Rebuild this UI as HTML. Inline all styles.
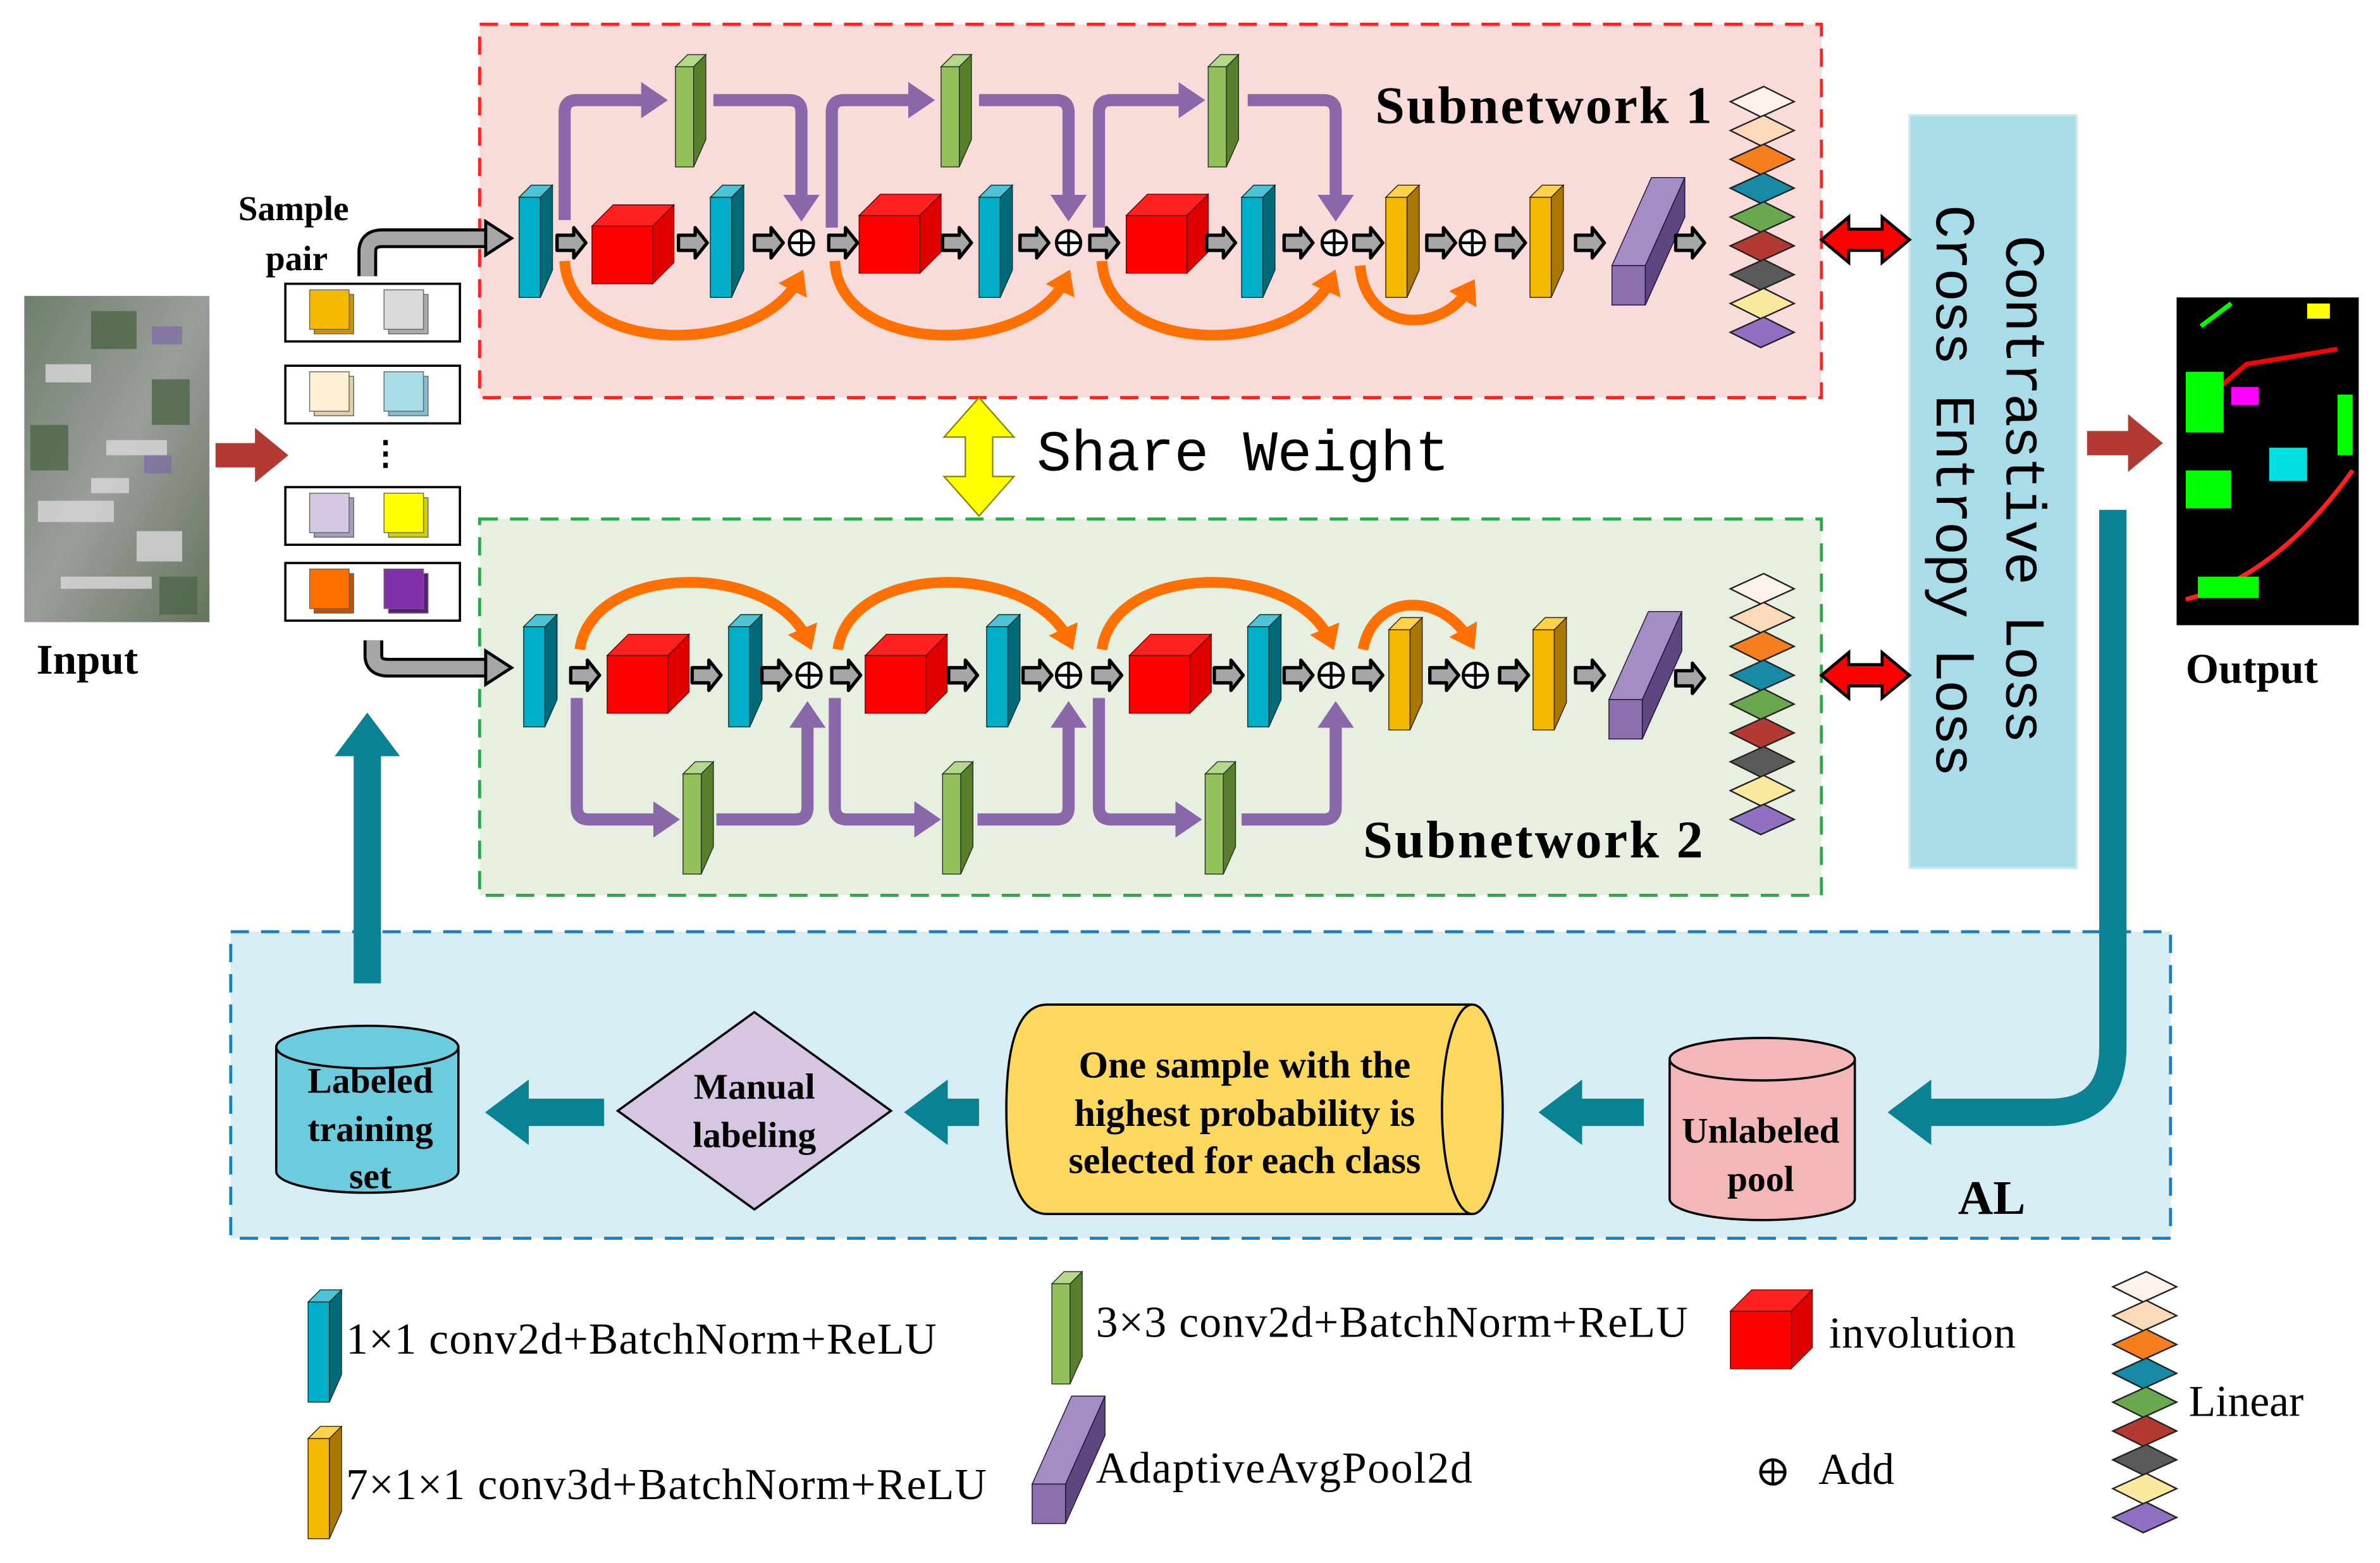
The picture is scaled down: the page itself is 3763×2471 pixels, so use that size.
<!DOCTYPE html>
<html><head><meta charset="utf-8"><style>
html,body{margin:0;padding:0;background:#fff}
svg{display:block}
.t{font-family:"Liberation Serif",serif}
.b{font-family:"Liberation Serif",serif;font-weight:bold}
.m{font-family:"Liberation Mono",monospace}
</style></head><body>
<svg width="3763" height="2471" viewBox="0 0 1568 1030" preserveAspectRatio="none" xmlns="http://www.w3.org/2000/svg">
<defs>
<symbol id="teal" overflow="visible"><polygon points="0,8 8,0 22,0 14,8" fill="#4fc3d6" stroke="#033" stroke-width="0.6"/><rect x="0" y="8" width="14" height="66" fill="#00aec8" stroke="#033" stroke-width="0.6"/><polygon points="14,8 22,0 22,56 14,74" fill="#006a78" stroke="#033" stroke-width="0.6"/></symbol>
<symbol id="green" overflow="visible"><polygon points="0,8 8,0 20,0 12,8" fill="#b6d88a" stroke="#232" stroke-width="0.6"/><rect x="0" y="8" width="12" height="66" fill="#93c05a" stroke="#232" stroke-width="0.6"/><polygon points="12,8 20,0 20,56 12,74" fill="#5a7f2c" stroke="#232" stroke-width="0.6"/></symbol>
<symbol id="orng" overflow="visible"><polygon points="0,8 8,0 22,0 14,8" fill="#ffd24d" stroke="#320" stroke-width="0.6"/><rect x="0" y="8" width="14" height="66" fill="#f5b800" stroke="#320" stroke-width="0.6"/><polygon points="14,8 22,0 22,56 14,74" fill="#a87800" stroke="#320" stroke-width="0.6"/></symbol>
<symbol id="red" overflow="visible"><polygon points="0,14 14,0 54,0 40,14" fill="#ff2020" stroke="#600" stroke-width="0.6"/><rect x="0" y="14" width="40" height="38" fill="#ff0000" stroke="#600" stroke-width="0.6"/><polygon points="40,14 54,0 54,38 40,52" fill="#e00000" stroke="#600" stroke-width="0.6"/></symbol>
<symbol id="pool" overflow="visible"><polygon points="0,58 26,0 48,0 22,58" fill="#a48cc4" stroke="#213" stroke-width="0.6"/><rect x="0" y="58" width="22" height="26" fill="#8c6fae" stroke="#213" stroke-width="0.6"/><polygon points="22,58 48,0 48,26 22,84" fill="#5e4680" stroke="#213" stroke-width="0.6"/></symbol>
<symbol id="arr" overflow="visible"><polygon points="0,-5 11,-5 11,-10 19,0 11,10 11,5 0,5" fill="#a6a6a6" stroke="#000" stroke-width="2.2" stroke-linejoin="round"/></symbol>
<symbol id="add" overflow="visible"><circle cx="0" cy="0" r="8" fill="#fff" stroke="#000" stroke-width="2"/><path d="M-8,0H8M0,-8V8" stroke="#000" stroke-width="1.8"/></symbol>
<symbol id="lin" overflow="visible">
<g stroke="#222" stroke-width="1">
<polygon points="0,12 22,2 42,12 20,22" fill="#fdf1ec"/>
<polygon points="0,31 22,21 42,31 20,41" fill="#fcd9b8"/>
<polygon points="0,50 22,40 42,50 20,60" fill="#f57f1f"/>
<polygon points="0,69 22,59 42,69 20,79" fill="#178ba5"/>
<polygon points="0,88 22,78 42,88 20,98" fill="#6aa84f"/>
<polygon points="0,107 22,97 42,107 20,117" fill="#b23a32"/>
<polygon points="0,126 22,116 42,126 20,136" fill="#5a5a5a"/>
<polygon points="0,145 22,135 42,145 20,155" fill="#fbe9a0"/>
<polygon points="0,164 22,154 42,164 20,174" fill="#9070c0"/>
</g></symbol>
<marker id="mp" markerWidth="3" markerHeight="3" refX="1.2" refY="1.5" orient="auto" markerUnits="strokeWidth"><polygon points="0,0 2.2,1.5 0,3" fill="#8a67a8"/></marker>
<marker id="mo" markerWidth="3" markerHeight="3" refX="1.2" refY="1.5" orient="auto" markerUnits="strokeWidth"><polygon points="0,0 2.2,1.5 0,3" fill="#ff7000"/></marker>
<marker id="mt" markerWidth="2.4" markerHeight="2.4" refX="0.8" refY="1.2" orient="auto" markerUnits="strokeWidth"><polygon points="0,0 1.6,1.2 0,2.4" fill="#0a8293"/></marker>
<linearGradient id="sat" x1="0" y1="0" x2="1" y2="1"><stop offset="0" stop-color="#6f7f6c"/><stop offset="0.5" stop-color="#9a9e9a"/><stop offset="1" stop-color="#66755e"/></linearGradient>
</defs>

<rect x="316" y="16" width="884" height="246" fill="#f9dcda" stroke="#ff2020" stroke-width="2" stroke-dasharray="12,8"/>
<rect x="316" y="342" width="884" height="248" fill="#e7f0e0" stroke="#2aa84a" stroke-width="2" stroke-dasharray="12,8"/>
<rect x="152" y="614" width="1278" height="202" fill="#d6edf4" stroke="#1a7ec0" stroke-width="2" stroke-dasharray="12,8"/>
<rect x="1258" y="76" width="110" height="496" fill="#a8dce8" stroke="#c9e8ee" stroke-width="1.5"/>
<text class="m" font-size="37" textLength="335" transform="translate(1322,155) rotate(90)">Contrastive Loss</text>
<text class="m" font-size="37" textLength="377" transform="translate(1276,135) rotate(90)">Cross Entropy Loss</text>

<rect x="16" y="195" width="122" height="215" fill="url(#sat)"/>
<g fill="#d8d8d8" opacity="0.8"><rect x="30" y="240" width="30" height="12"/><rect x="70" y="290" width="40" height="10"/><rect x="25" y="330" width="50" height="14"/><rect x="90" y="350" width="30" height="20"/><rect x="40" y="380" width="60" height="8"/><rect x="60" y="315" width="25" height="10"/></g>
<g fill="#4f6648" opacity="0.8"><rect x="60" y="205" width="30" height="25"/><rect x="100" y="250" width="25" height="30"/><rect x="20" y="280" width="25" height="30"/><rect x="105" y="380" width="25" height="25"/></g>
<g fill="#7d6aa8" opacity="0.7"><rect x="100" y="215" width="20" height="12"/><rect x="95" y="300" width="18" height="12"/></g>
<rect x="1434" y="196" width="120" height="216" fill="#000"/>
<g fill="none" stroke-width="3"><path d="M1445,270 L1480,240 L1540,230" stroke="#ff0000"/><path d="M1440,395 Q1500,380 1550,310" stroke="#ff2020"/><path d="M1450,215 L1470,200" stroke="#00ff00"/></g>
<rect x="1440" y="245" width="25" height="40" fill="#00ff00"/><rect x="1495" y="295" width="25" height="22" fill="#00e0e0"/><rect x="1470" y="255" width="18" height="12" fill="#ff00ff"/><rect x="1440" y="310" width="30" height="25" fill="#00ff00"/><rect x="1448" y="380" width="40" height="14" fill="#00ff00"/><rect x="1540" y="260" width="10" height="40" fill="#00ff00"/><rect x="1520" y="200" width="15" height="10" fill="#ffff00"/>

<text class="b" font-size="28" x="24" y="444">Input</text>
<text class="b" font-size="28" x="1440" y="450">Output</text>
<polygon points="142,292 168,292 168,282 190,300 168,318 168,308 142,308" fill="#b23a32"/>
<polygon points="1375,284 1402,284 1402,273 1425,292 1402,311 1402,300 1375,300" fill="#b23a32"/>

<text class="b" font-size="23" x="157" y="145">Sample</text>
<text class="b" font-size="23" x="175" y="178">pair</text>
<g stroke="#000" stroke-width="1.5" fill="#fff"><rect x="188" y="187" width="115" height="38"/><rect x="188" y="241" width="115" height="38"/><rect x="188" y="321" width="115" height="38"/><rect x="188" y="371" width="115" height="38"/></g>
<g stroke="#666" stroke-width="0.6">
<rect x="207" y="194" width="26" height="26" fill="#d09000"/><rect x="204" y="191" width="26" height="26" fill="#f7b900"/>
<rect x="256" y="194" width="26" height="26" fill="#aaa"/><rect x="253" y="191" width="26" height="26" fill="#d9d9d9"/>
<rect x="207" y="248" width="26" height="26" fill="#e0cfa8"/><rect x="204" y="245" width="26" height="26" fill="#fdf0d4"/>
<rect x="256" y="248" width="26" height="26" fill="#80c0cc"/><rect x="253" y="245" width="26" height="26" fill="#a6dde6"/>
<rect x="207" y="328" width="26" height="26" fill="#a89cbf"/><rect x="204" y="325" width="26" height="26" fill="#d4c8e2"/>
<rect x="256" y="328" width="26" height="26" fill="#d0d000"/><rect x="253" y="325" width="26" height="26" fill="#ffff00"/>
<rect x="207" y="378" width="26" height="26" fill="#c05000"/><rect x="204" y="375" width="26" height="26" fill="#ff7000"/>
<rect x="256" y="378" width="26" height="26" fill="#5a1c80"/><rect x="253" y="375" width="26" height="26" fill="#8030a8"/>
</g>
<text class="b" font-size="22" x="243" y="306">⋮</text>
<path d="M242,182 V166 Q242,157 252,157 H322" fill="none" stroke="#000" stroke-width="13"/><path d="M242,182 V166 Q242,157 252,157 H322" fill="none" stroke="#a6a6a6" stroke-width="9"/>
<polygon points="320,146 337,157 320,168" fill="#a6a6a6" stroke="#000" stroke-width="2"/>
<path d="M246,422 V432 Q246,440 256,440 H322" fill="none" stroke="#000" stroke-width="13"/><path d="M246,422 V432 Q246,440 256,440 H322" fill="none" stroke="#a6a6a6" stroke-width="9"/>
<polygon points="320,429 337,440 320,451" fill="#a6a6a6" stroke="#000" stroke-width="2"/>

<g>
<path d="M372,145 V74 Q372,66 380,66 H432" fill="none" stroke="#8a67a8" stroke-width="8" marker-end="url(#mp)"/>
<path d="M470,66 H520 Q528,66 528,74 V138" fill="none" stroke="#8a67a8" stroke-width="8" marker-end="url(#mp)"/>
<path d="M548,150 V74 Q548,66 556,66 H608" fill="none" stroke="#8a67a8" stroke-width="8" marker-end="url(#mp)"/>
<path d="M645,66 H696 Q704,66 704,74 V138" fill="none" stroke="#8a67a8" stroke-width="8" marker-end="url(#mp)"/>
<path d="M724,150 V74 Q724,66 732,66 H786" fill="none" stroke="#8a67a8" stroke-width="8" marker-end="url(#mp)"/>
<path d="M822,66 H872 Q880,66 880,74 V138" fill="none" stroke="#8a67a8" stroke-width="8" marker-end="url(#mp)"/>
<path d="M372,172 C375,235 500,235 526,184" fill="none" stroke="#ff7000" stroke-width="7" marker-end="url(#mo)"/>
<path d="M550,172 C553,235 678,235 702,184" fill="none" stroke="#ff7000" stroke-width="7" marker-end="url(#mo)"/>
<path d="M726,172 C729,235 854,235 877,184" fill="none" stroke="#ff7000" stroke-width="7" marker-end="url(#mo)"/>
<path d="M896,175 C900,220 950,220 968,190" fill="none" stroke="#ff7000" stroke-width="7" marker-end="url(#mo)"/>
<use href="#green" x="445" y="36"/><use href="#green" x="620" y="36"/><use href="#green" x="796" y="36"/>
<use href="#teal" x="342" y="122"/><use href="#arr" x="367" y="160"/><use href="#red" x="390" y="135"/><use href="#arr" x="447" y="160"/>
<use href="#teal" x="468" y="122"/><use href="#arr" x="497" y="160"/><use href="#add" x="528" y="160"/><use href="#arr" x="546" y="160"/>
<use href="#red" x="566" y="128"/><use href="#arr" x="621" y="160"/><use href="#teal" x="645" y="122"/><use href="#arr" x="672" y="160"/>
<use href="#add" x="704" y="160"/><use href="#arr" x="718" y="160"/><use href="#red" x="742" y="128"/><use href="#arr" x="795" y="160"/>
<use href="#teal" x="818" y="122"/><use href="#arr" x="846" y="160"/><use href="#add" x="879" y="160"/><use href="#arr" x="892" y="160"/>
<use href="#orng" x="913" y="122"/><use href="#arr" x="940" y="160"/><use href="#add" x="970" y="160"/><use href="#arr" x="986" y="160"/>
<use href="#orng" x="1008" y="122"/><use href="#arr" x="1038" y="160"/><use href="#pool" x="1062" y="117"/><use href="#arr" x="1104" y="160"/>
<use href="#lin" x="1140" y="55"/>
</g>
<text class="b" font-size="35" textLength="222" x="906" y="81">Subnetwork 1</text>

<g>
<path d="M380,460 V532 Q380,540 388,540 H440" fill="none" stroke="#8a67a8" stroke-width="8" marker-end="url(#mp)"/>
<path d="M472,540 H524 Q532,540 532,532 V470" fill="none" stroke="#8a67a8" stroke-width="8" marker-end="url(#mp)"/>
<path d="M550,460 V532 Q550,540 558,540 H612" fill="none" stroke="#8a67a8" stroke-width="8" marker-end="url(#mp)"/>
<path d="M644,540 H696 Q704,540 704,532 V470" fill="none" stroke="#8a67a8" stroke-width="8" marker-end="url(#mp)"/>
<path d="M724,460 V532 Q724,540 732,540 H784" fill="none" stroke="#8a67a8" stroke-width="8" marker-end="url(#mp)"/>
<path d="M818,540 H872 Q880,540 880,532 V470" fill="none" stroke="#8a67a8" stroke-width="8" marker-end="url(#mp)"/>
<path d="M382,428 C390,370 510,370 532,422" fill="none" stroke="#ff7000" stroke-width="7" marker-end="url(#mo)"/>
<path d="M552,428 C560,370 680,370 704,422" fill="none" stroke="#ff7000" stroke-width="7" marker-end="url(#mo)"/>
<path d="M726,428 C734,370 854,370 876,422" fill="none" stroke="#ff7000" stroke-width="7" marker-end="url(#mo)"/>
<path d="M898,428 C905,390 950,390 968,422" fill="none" stroke="#ff7000" stroke-width="7" marker-end="url(#mo)"/>
<use href="#green" x="450" y="502"/><use href="#green" x="621" y="502"/><use href="#green" x="794" y="502"/>
<use href="#teal" x="345" y="405"/><use href="#arr" x="376" y="445"/><use href="#red" x="400" y="418"/><use href="#arr" x="456" y="445"/>
<use href="#teal" x="480" y="405"/><use href="#arr" x="502" y="445"/><use href="#add" x="533" y="445"/><use href="#arr" x="548" y="445"/>
<use href="#red" x="570" y="418"/><use href="#arr" x="625" y="445"/><use href="#teal" x="650" y="405"/><use href="#arr" x="674" y="445"/>
<use href="#add" x="704" y="445"/><use href="#arr" x="720" y="445"/><use href="#red" x="744" y="418"/><use href="#arr" x="800" y="445"/>
<use href="#teal" x="822" y="405"/><use href="#arr" x="846" y="445"/><use href="#add" x="877" y="445"/><use href="#arr" x="892" y="445"/>
<use href="#orng" x="915" y="407"/><use href="#arr" x="942" y="445"/><use href="#add" x="972" y="445"/><use href="#arr" x="988" y="445"/>
<use href="#orng" x="1010" y="407"/><use href="#arr" x="1038" y="445"/><use href="#pool" x="1060" y="403"/><use href="#arr" x="1104" y="447"/>
<use href="#lin" x="1140" y="376"/>
</g>
<text class="b" font-size="35" textLength="224" x="898" y="565">Subnetwork 2</text>

<polygon points="645,262 668,288 654,288 654,314 668,314 645,340 622,314 636,314 636,288 622,288" fill="#ffff00" stroke="#8a8a00" stroke-width="1"/>
<text class="m" font-size="38" textLength="272" x="683" y="310">Share Weight</text>

<polygon points="1200,158 1218,143 1218,151 1240,151 1240,143 1258,158 1240,173 1240,165 1218,165 1218,173" fill="#ff0000" stroke="#000" stroke-width="2"/>
<polygon points="1200,445 1218,430 1218,438 1240,438 1240,430 1258,445 1240,460 1240,452 1218,452 1218,460" fill="#ff0000" stroke="#000" stroke-width="2"/>

<path d="M1392,336 V690 Q1392,733 1350,733 H1258" fill="none" stroke="#0a8293" stroke-width="18" marker-end="url(#mt)"/>
<path d="M242,648 V484" fill="none" stroke="#0a8293" stroke-width="18" marker-end="url(#mt)"/>
<path d="M1083,733 H1028" fill="none" stroke="#0a8293" stroke-width="18" marker-end="url(#mt)"/>
<path d="M645,733 H610" fill="none" stroke="#0a8293" stroke-width="18" marker-end="url(#mt)"/>
<path d="M398,733 H334" fill="none" stroke="#0a8293" stroke-width="18" marker-end="url(#mt)"/>

<path d="M182,690 V772 A60,14 0 0 0 302,772 V690" fill="#6ccbdd" stroke="#000" stroke-width="1.5"/>
<ellipse cx="242" cy="690" rx="60" ry="14" fill="#6ccbdd" stroke="#000" stroke-width="1.5"/>
<text class="b" font-size="24" text-anchor="middle" x="244" y="720">Labeled</text>
<text class="b" font-size="24" text-anchor="middle" x="244" y="752">training</text>
<text class="b" font-size="24" text-anchor="middle" x="244" y="783">set</text>

<polygon points="497,667 587,732 497,797 407,732" fill="#d6c6e1" stroke="#000" stroke-width="1.5"/>
<text class="b" font-size="24" text-anchor="middle" x="497" y="724">Manual</text>
<text class="b" font-size="24" text-anchor="middle" x="497" y="756">labeling</text>

<path d="M690,662 H970 A20,69 0 0 1 970,800 H690 Q663,800 663,731 Q663,662 690,662 Z" fill="#fdd85f" stroke="#000" stroke-width="1.5"/>
<path d="M970,662 A20,69 0 0 0 970,800" fill="none" stroke="#000" stroke-width="1.5"/>
<text class="b" font-size="25" text-anchor="middle" x="820" y="710">One sample with the</text>
<text class="b" font-size="25" text-anchor="middle" x="820" y="742">highest probability is</text>
<text class="b" font-size="25" text-anchor="middle" x="820" y="773">selected for each class</text>

<path d="M1100,698 V790 A61,14 0 0 0 1222,790 V698" fill="#f3b7b7" stroke="#000" stroke-width="1.5"/>
<ellipse cx="1161" cy="698" rx="61" ry="14" fill="#f3b7b7" stroke="#000" stroke-width="1.5"/>
<text class="b" font-size="24" text-anchor="middle" x="1160" y="753">Unlabeled</text>
<text class="b" font-size="24" text-anchor="middle" x="1160" y="785">pool</text>
<text class="b" font-size="32" x="1290" y="800">AL</text>

<use href="#teal" x="203" y="850"/>
<text class="t" font-size="29" textLength="389" x="228" y="892">1×1 conv2d+BatchNorm+ReLU</text>
<use href="#green" x="693" y="838"/>
<text class="t" font-size="29" textLength="390" x="722" y="881">3×3 conv2d+BatchNorm+ReLU</text>
<use href="#red" x="1140" y="850"/>
<text class="t" font-size="29" textLength="123" x="1205" y="888">involution</text>
<use href="#orng" x="203" y="940"/>
<text class="t" font-size="29" textLength="422" x="228" y="988">7×1×1 conv3d+BatchNorm+ReLU</text>
<use href="#pool" x="680" y="920"/>
<text class="t" font-size="29" textLength="248" x="722" y="977">AdaptiveAvgPool2d</text>
<use href="#add" x="1168" y="970"/>
<text class="t" font-size="29" x="1198" y="978">Add</text>
<use href="#lin" x="1392" y="836"/>
<text class="t" font-size="29" x="1442" y="933">Linear</text>
</svg>
</body></html>
